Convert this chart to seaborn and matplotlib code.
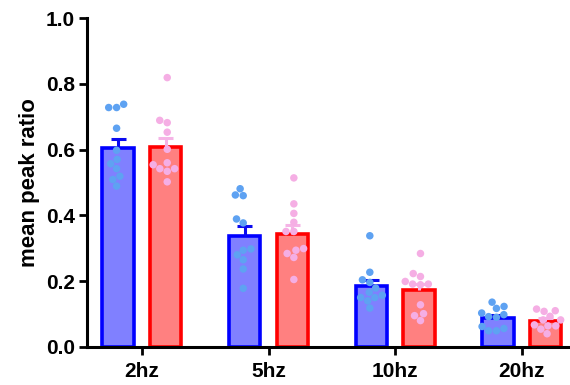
import numpy as np
import pandas as pd
import matplotlib
matplotlib.use("Agg")
import matplotlib.pyplot as plt
import seaborn as sns

# Stimulation frequencies and the two recorded groups
freqs = ["2hz", "5hz", "10hz", "20hz"]
groups = ["A", "B"]

# Per-cell mean peak ratios, group A
a_2hz = [0.728, 0.728, 0.738, 0.665, 0.598, 0.557, 0.570, 0.542, 0.519, 0.509, 0.489]
a_5hz = [0.481, 0.460, 0.462, 0.389, 0.377, 0.294, 0.298, 0.280, 0.265, 0.237, 0.178]
a_10hz = [0.338, 0.227, 0.204, 0.196, 0.179, 0.166, 0.150, 0.150, 0.157, 0.140, 0.118]
a_20hz = [0.136, 0.117, 0.123, 0.098, 0.090, 0.092, 0.103, 0.062, 0.049, 0.049, 0.056]

# Per-cell mean peak ratios, group B
b_2hz = [0.819, 0.689, 0.682, 0.653, 0.601, 0.554, 0.560, 0.542, 0.534, 0.542, 0.502]
b_5hz = [0.514, 0.435, 0.406, 0.379, 0.351, 0.351, 0.294, 0.299, 0.272, 0.284, 0.205]
b_10hz = [0.284, 0.223, 0.214, 0.199, 0.189, 0.191, 0.191, 0.128, 0.101, 0.095, 0.080]
b_20hz = [0.115, 0.108, 0.110, 0.093, 0.082, 0.082, 0.064, 0.067, 0.054, 0.064, 0.040]

series = {
    "A": [a_2hz, a_5hz, a_10hz, a_20hz],
    "B": [b_2hz, b_5hz, b_10hz, b_20hz],
}

rows = []
for g in groups:
    for f, vals in zip(freqs, series[g]):
        for v in vals:
            rows.append({"freq": f, "group": g, "ratio": v})
df = pd.DataFrame(rows)

face_colors = {"A": "#8080FF", "B": "#FF8080"}
edge_colors = {"A": "#0000FF", "B": "#FF0000"}
dot_colors = {"A": "#5EA2F2", "B": "#F5AEE4"}
err_colors = {"A": "#0A0AF0", "B": "#F5B4E6"}

sns.set_style("ticks")
plt.rcParams["font.family"] = ["Liberation Sans", "DejaVu Sans"]
plt.rcParams["font.weight"] = "bold"
plt.rcParams["text.color"] = "black"
plt.rcParams["axes.labelcolor"] = "black"
plt.rcParams["xtick.color"] = "black"
plt.rcParams["ytick.color"] = "black"

fig = plt.figure(figsize=(5.7, 3.85), dpi=100)
ax = fig.add_axes([0.153, 0.099, 0.847, 0.854])

sns.barplot(data=df, x="freq", y="ratio", hue="group", order=freqs,
            hue_order=groups, palette=face_colors, errorbar=None,
            width=0.75, gap=0.34, linewidth=2.6, legend=False, ax=ax,
            zorder=1)

# colour bar outlines per group
n = len(freqs)
for i, patch in enumerate(ax.patches[: 2 * n]):
    g = groups[i // n]
    patch.set_edgecolor(edge_colors[g])
    patch.set_facecolor(face_colors[g])

# upper-only SEM bars
stats = df.groupby(["group", "freq"])["ratio"].agg(["mean", "sem"])
for i, patch in enumerate(ax.patches[: 2 * n]):
    g = groups[i // n]
    f = freqs[i % n]
    m, s = stats.loc[(g, f), "mean"], stats.loc[(g, f), "sem"]
    xc = patch.get_x() + patch.get_width() / 2
    ax.vlines(xc, m, m + s, color=err_colors[g], lw=2.2, zorder=3)
    ax.hlines(m + s, xc - 0.06, xc + 0.06, color=err_colors[g], lw=2.2, zorder=3)

sns.swarmplot(data=df, x="freq", y="ratio", hue="group", order=freqs,
              hue_order=groups, palette=dot_colors, dodge=True, size=5.4,
              linewidth=0, legend=False, ax=ax, zorder=4)

ax.set_xlim(-0.432, 3.381)
ax.set_ylim(0, 1.0)
ax.set_yticks([0.0, 0.2, 0.4, 0.6, 0.8, 1.0])
ax.set_yticklabels(["0.0", "0.2", "0.4", "0.6", "0.8", "1.0"])
ax.set_xlabel("")
ax.set_ylabel("mean peak ratio", fontsize=16, fontweight="bold", labelpad=4,
              color="black")

for lab in ax.get_xticklabels() + ax.get_yticklabels():
    lab.set_fontsize(15)
    lab.set_fontweight("bold")
    lab.set_color("black")

ax.tick_params(axis="both", direction="out", length=6, width=2, color="black")
ax.tick_params(axis="y", pad=3)
ax.tick_params(axis="x", pad=5)
for side in ["left", "bottom"]:
    ax.spines[side].set_linewidth(2.2)
    ax.spines[side].set_color("black")
ax.spines["top"].set_visible(False)
ax.spines["right"].set_visible(False)
ax.spines["left"].set_bounds(0, 1.0)

fig.savefig("out.png", dpi=100)
